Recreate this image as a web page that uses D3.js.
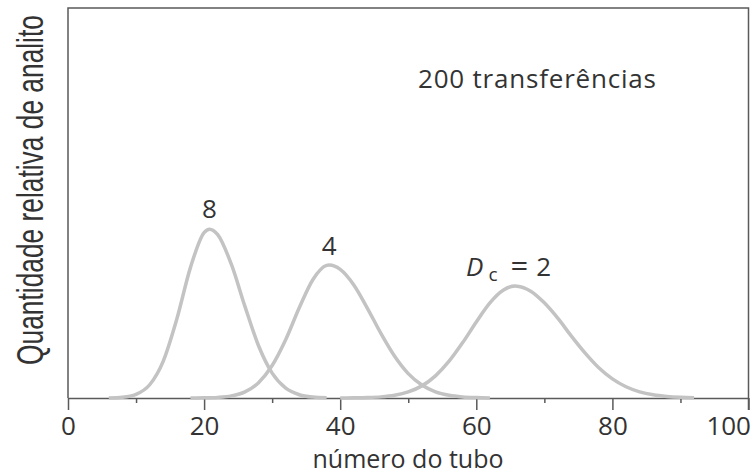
<!DOCTYPE html>
<html>
<head>
<meta charset="utf-8">
<script src="https://cdn.jsdelivr.net/npm/d3@7"></script>
<style>
body { margin: 0; background: #fff; }
text { font-family: "Open Sans", sans-serif; fill: #333; }
</style>
</head>
<body>
<div id="chart"></div>
<script>
// tick values on the x axis (tube number)
var xTicks = [0, 20, 40, 60, 80, 100];
var xMinorTicks = [10, 30, 50, 70, 90];

// amount of analyte per tube (0-100 = full height)
var tubes8  = [6, 8, 10, 12, 14, 16, 18, 20, 20.8, 22, 24, 26, 28, 30, 32, 34, 36, 38];
var amount8 = [0.03, 0.2, 0.94, 3.4, 9.47, 20.3, 33.5, 42.4, 43.3, 41.9, 34.3, 23.5, 13.4, 6.38, 2.53, 0.84, 0.23, 0.05];

var tubes4  = [18, 20, 22, 24, 26, 28, 30, 32, 34, 36, 38, 38.4, 40, 42, 44, 46, 48, 50, 52, 54, 56, 58, 60, 62];
var amount4 = [0.01, 0.04, 0.16, 0.54, 1.58, 3.92, 8.32, 15.0, 23.2, 30.4, 34.0, 34.1, 33.0, 29.0, 23.0, 16.5, 10.7, 6.26, 3.32, 1.59, 0.69, 0.27, 0.1, 0.03];

var tubes2  = [40, 42, 44, 46, 48, 50, 52, 54, 56, 58, 60, 62, 64, 65.7, 66, 68, 70, 72, 74, 76, 78, 80, 82, 84, 86, 88, 90, 92];
var amount2 = [0.01, 0.04, 0.11, 0.29, 0.7, 1.55, 3.11, 5.68, 9.43, 14.2, 19.5, 24.4, 27.7, 28.7, 28.68, 27.4, 24.4, 20.4, 15.8, 11.5, 7.75, 4.89, 2.88, 1.58, 0.81, 0.39, 0.17, 0.07];

var curveNames = ["8", "4", "2"];

Chart = {
    svg : null,
    init : function(divName) {
        var w = 753,
            h = 474;

        this.svg = d3.select(divName)
            .append("svg")
            .attr("width", w)
            .attr("height", h);

        this.x = d3.scaleLinear().domain([0, 100]).range([68, 748.5]);
        this.y = d3.scaleLinear().domain([0, 100]).range([398, 8]);

        this.drawFrame();
        this.drawCurves();
        this.drawLabels();
        return this;
    },

    drawFrame : function() {
        var x = this.x, y = this.y, svg = this.svg;
        var frame = svg.append("g")
            .attr("fill", "none")
            .attr("stroke", "#5a5a5a")
            .attr("stroke-width", 1.5);

        // left, top and right border
        frame.append("path")
            .attr("d", "M" + x(0) + "," + y(0) + "V" + y(100) + "H" + x(100) + "V" + (y(0) + 12));

        // minor ticks
        svg.append("g")
            .attr("transform", "translate(0," + y(0) + ")")
            .call(d3.axisBottom(x).tickValues(xMinorTicks).tickSize(5).tickFormat(""))
            .call(function(g) { g.select(".domain").remove(); })
            .selectAll("line").attr("stroke", "#5a5a5a").attr("stroke-width", 1.5);

        // major ticks + labels
        var axis = svg.append("g")
            .attr("transform", "translate(0," + y(0) + ")")
            .call(d3.axisBottom(x).tickValues(xTicks).tickSize(12).tickSizeOuter(0).tickPadding(7));
        axis.select(".domain").attr("stroke", "#5a5a5a").attr("stroke-width", 1.5);
        axis.selectAll("line").attr("stroke", "#5a5a5a").attr("stroke-width", 1.5);
        axis.selectAll("text")
            .attr("fill", "#333")
            .style("font-size", "26px")
            .style("font-family", "'Open Sans', sans-serif");
        // last label sits flush with the right border
        axis.selectAll("text")
            .filter(function(d) { return d === 100; })
            .attr("text-anchor", "end")
            .attr("x", 2);

        // axis titles
        svg.append("text")
            .attr("x", 408)
            .attr("y", 468)
            .attr("text-anchor", "middle")
            .style("font-size", "25px")
            .text("número do tubo");

        // condensed y title: squeeze it along its own direction
        var yTitle = svg.append("text")
            .attr("text-anchor", "middle")
            .style("font-size", "36px")
            .style("font-family", "'Liberation Sans Narrow', 'Liberation Sans', sans-serif")
            .text("Quantidade relativa de analito");
        var sx = 350 / yTitle.node().getComputedTextLength();
        yTitle.attr("transform", "translate(43,190) rotate(-90) scale(" + sx + ",1)");
    },

    drawCurves : function() {
        var x = this.x, y = this.y;
        var series = [
            { name: curveNames[0], tubes: tubes8, amount: amount8 },
            { name: curveNames[1], tubes: tubes4, amount: amount4 },
            { name: curveNames[2], tubes: tubes2, amount: amount2 }
        ];

        var line = d3.line()
            .x(function(d) { return x(d[0]); })
            .y(function(d) { return y(d[1]); })
            .curve(d3.curveMonotoneX);

        this.svg.append("g")
            .selectAll("path")
            .data(series)
            .join("path")
            .attr("fill", "none")
            .attr("stroke", "#c3c3c3")
            .attr("stroke-width", 3.5)
            .attr("d", function(s) { return line(d3.zip(s.tubes, s.amount)); });

        this.series = series;
    },

    drawLabels : function() {
        var x = this.x, y = this.y, svg = this.svg;

        // peak of each curve
        var peaks = this.series.map(function(s) {
            var i = d3.maxIndex(s.amount);
            return { name: s.name, tube: s.tubes[i], amount: s.amount[i] };
        });

        svg.append("text")
            .attr("x", x(peaks[0].tube))
            .attr("y", y(peaks[0].amount) - 11)
            .attr("text-anchor", "middle")
            .style("font-size", "26px")
            .text(peaks[0].name);

        svg.append("text")
            .attr("x", x(peaks[1].tube))
            .attr("y", y(peaks[1].amount) - 10)
            .attr("text-anchor", "middle")
            .style("font-size", "26px")
            .text(peaks[1].name);

        var dc = svg.append("text")
            .attr("x", x(peaks[2].tube) - 49)
            .attr("y", y(peaks[2].amount) - 10)
            .style("font-size", "26px");
        dc.append("tspan").style("font-style", "italic").text("D");
        dc.append("tspan").attr("dx", 5).attr("dy", 5).style("font-size", "19px").text("c");
        dc.append("tspan").attr("dx", 13).attr("dy", -4)
            .style("font-size", "31px").text("=");
        dc.append("tspan").attr("dx", 8).attr("dy", -1).text(peaks[2].name);

        svg.append("text")
            .attr("x", 418)
            .attr("y", 88)
            .style("font-size", "26px")
            .style("letter-spacing", "0.8px")
            .text("200 transferências");
    }
};

Chart.init("#chart");
</script>
</body>
</html>
